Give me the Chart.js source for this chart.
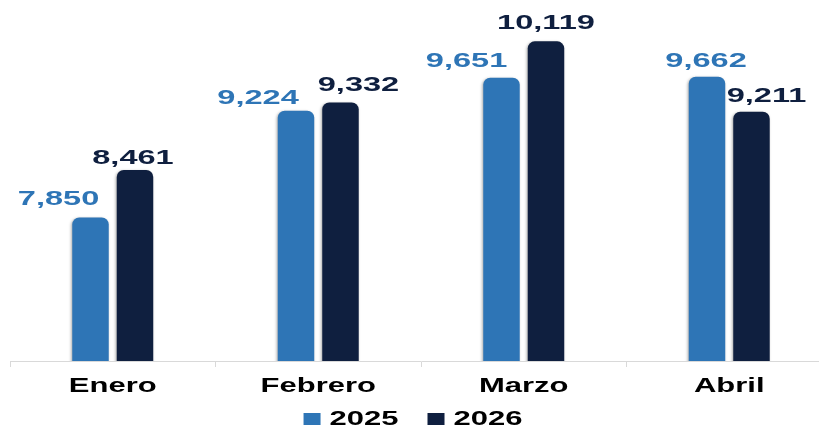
<!DOCTYPE html>
<html lang="es">
<head>
  <meta charset="UTF-8">
  <title>Enero - Abril 2025 vs 2026</title>
  <script src="https://cdn.jsdelivr.net/npm/chart.js"></script>
  <style>
    html, body {
      margin: 0;
      padding: 0;
      background: #ffffff;
      overflow: hidden;
    }
    .wrap {
      position: relative;
      width: 833px;
      height: 427px;
    }
  </style>
</head>
<body>

<div class="wrap">
  <canvas id="barChart"></canvas>
</div>

<script>
const months = ["Enero", "Febrero", "Marzo", "Abril"];
const yearLabels = ["2025", "2026"];
const values2025 = [7850, 9224, 9651, 9662];
const values2026 = [8461, 9332, 10119, 9211];

const BLUE = "#2E75B6";
const NAVY = "#0F1F3F";
const FONT = "'Liberation Sans', Arial, sans-serif";
const STRETCH = 1.55; // the source picture is widened horizontally

function fmt(v) {
  return v.toLocaleString("en-US");
}

function stretchedText(ctx, text, x, y, align) {
  ctx.save();
  ctx.translate(x, y);
  ctx.scale(STRETCH, 1);
  ctx.textAlign = align || "center";
  ctx.textBaseline = "alphabetic";
  ctx.fillText(text, 0, 0);
  ctx.restore();
}

// soft shadow on the bars
const barShadow = {
  id: "barShadow",
  beforeDatasetsDraw(chart) {
    const ctx = chart.ctx;
    ctx.save();
    ctx.shadowColor = "rgba(0,0,0,0.35)";
    ctx.shadowBlur = 3;
    ctx.shadowOffsetX = -1;
    ctx.shadowOffsetY = 1;
  },
  afterDatasetsDraw(chart) {
    chart.ctx.restore();
  }
};

// value labels, category labels and legend drawn with the wide lettering
const wideText = {
  id: "wideText",
  afterDraw(chart, args, opts) {
    const ctx = chart.ctx;
    const xScale = chart.scales.x;

    // values above bars
    ctx.font = "bold 21px " + FONT;
    chart.data.datasets.forEach((ds, di) => {
      const meta = chart.getDatasetMeta(di);
      meta.data.forEach((bar, i) => {
        ctx.fillStyle = opts.labelColors[di];
        const dx = opts.dx[di][i];
        const gap = opts.gap[di][i];
        stretchedText(ctx, fmt(ds.data[i]), bar.x + dx, bar.y - gap);
      });
    });

    // category labels
    ctx.font = "bold 20px " + FONT;
    ctx.fillStyle = "#000000";
    months.forEach((m, i) => {
      stretchedText(ctx, m, xScale.getPixelForValue(i), 392);
    });

    // legend
    const boxW = 17, boxH = 12, boxGap = 9, itemGap = 29;
    const items = chart.data.datasets.map(ds => {
      const tw = ctx.measureText(ds.label).width * STRETCH;
      return { label: ds.label, color: ds.backgroundColor, w: boxW + boxGap + tw };
    });
    const total = items.reduce((s, it) => s + it.w, 0) + itemGap * (items.length - 1);
    let x = opts.legendCenter - total / 2;
    items.forEach(it => {
      ctx.fillStyle = it.color;
      ctx.fillRect(x, 413, boxW, boxH);
      ctx.fillStyle = "#000000";
      stretchedText(ctx, it.label, x + boxW + boxGap, 425, "left");
      x += it.w + itemGap;
    });
  }
};

const ctx = document.getElementById("barChart").getContext("2d");
new Chart(ctx, {
  type: "bar",
  data: {
    labels: months,
    datasets: [
      {
        label: yearLabels[0],
        data: values2025,
        backgroundColor: BLUE,
        borderWidth: 0,
        borderSkipped: false,
        borderRadius: { topLeft: 7, topRight: 7, bottomLeft: 3, bottomRight: 3 },
        categoryPercentage: 0.433,
        barPercentage: 0.82
      },
      {
        label: yearLabels[1],
        data: values2026,
        backgroundColor: NAVY,
        borderWidth: 0,
        borderSkipped: false,
        borderRadius: { topLeft: 7, topRight: 7, bottomLeft: 3, bottomRight: 3 },
        categoryPercentage: 0.433,
        barPercentage: 0.82
      }
    ]
  },
  options: {
    responsive: true,
    maintainAspectRatio: false,
    animation: false,
    devicePixelRatio: 1,
    layout: {
      padding: { top: 4, left: 10, right: 1, bottom: 0 }
    },
    plugins: {
      legend: { display: false },
      tooltip: { enabled: false },
      wideText: {
        labelColors: [BLUE, NAVY],
        dx: [[-32, -38, -35, -1], [-2, 18, 0, 15]],
        gap: [[12, 7, 11, 10], [6, 11, 12, 10]],
        legendCenter: 413
      }
    },
    scales: {
      x: {
        border: { display: true, color: "#D9D9D9", width: 1 },
        grid: {
          offset: true,
          drawOnChartArea: false,
          drawTicks: true,
          tickLength: 6,
          color: "#D9D9D9"
        },
        ticks: { display: false },
        afterFit(scale) {
          scale.height = 66;
        }
      },
      y: {
        display: false,
        min: 6000,
        max: 10600
      }
    }
  },
  plugins: [barShadow, wideText]
});
</script>

</body>
</html>
